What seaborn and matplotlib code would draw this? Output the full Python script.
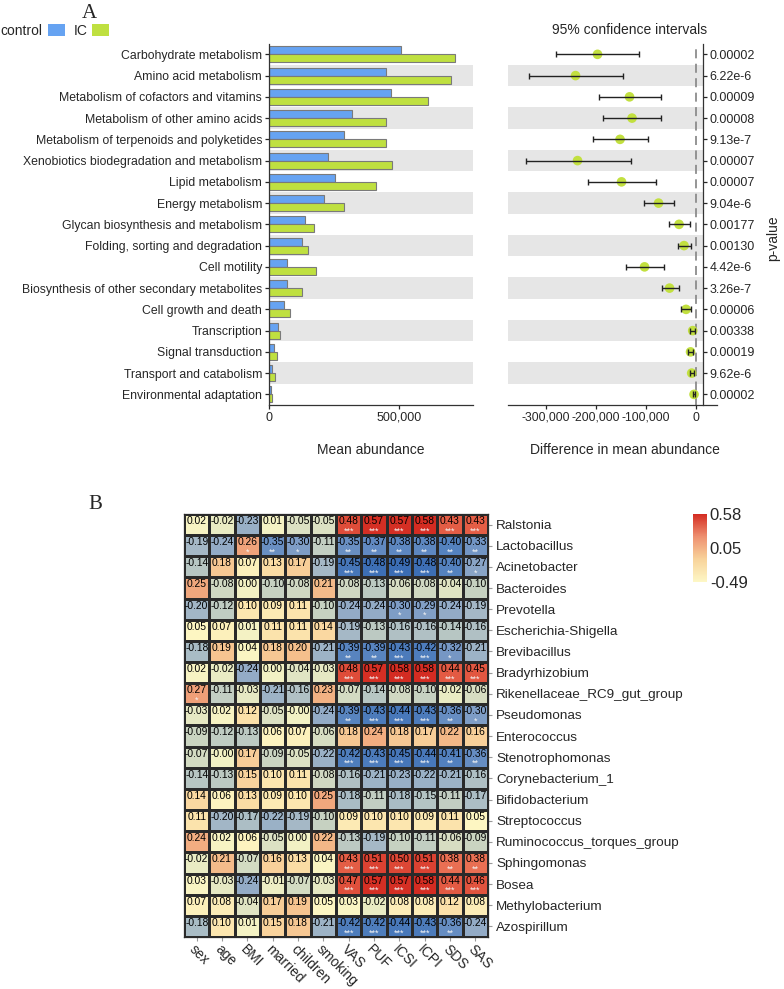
import numpy as np
import pandas as pd
import matplotlib
matplotlib.use("Agg")
import matplotlib.pyplot as plt
import seaborn as sns
from matplotlib.colors import LinearSegmentedColormap, Normalize
from matplotlib.cm import ScalarMappable
from matplotlib.ticker import FuncFormatter

# =========================
# CONFIG
# =========================
sns.set_style("ticks")
plt.rcParams['font.family'] = ['Liberation Sans', 'DejaVu Sans']

# =========================
# DATA - PANEL A (KEGG level 2)
# =========================
pathways = [
    "Carbohydrate metabolism", "Amino acid metabolism",
    "Metabolism of cofactors and vitamins", "Metabolism of other amino acids",
    "Metabolism of terpenoids and polyketides",
    "Xenobiotics biodegradation and metabolism", "Lipid metabolism",
    "Energy metabolism", "Glycan biosynthesis and metabolism",
    "Folding, sorting and degradation", "Cell motility",
    "Biosynthesis of other secondary metabolites", "Cell growth and death",
    "Transcription", "Signal transduction", "Transport and catabolism",
    "Environmental adaptation",
]
control_mean = [507000, 449000, 469000, 318000, 287000, 226000, 253000, 210000,
                140000, 126000, 70500, 70500, 59000, 36000, 18000, 12800, 7700]
ic_mean = [715000, 700000, 611000, 451000, 449000, 473000, 410000, 287000,
           174000, 149000, 179500, 126000, 79500, 41000, 29500, 21800, 12800]
diff_mean = [-197000, -241000, -133000, -128000, -152000, -237000, -149000, -75000,
             -34000, -24000, -103000, -53000, -20000, -6700, -11000, -8700, -4000]
ci_low = [-281000, -335000, -195000, -187000, -207000, -341000, -217000, -105000,
          -55000, -37000, -141000, -69000, -30000, -12000, -17000, -13000, -6000]
ci_high = [-115000, -147000, -70000, -70000, -97000, -131000, -81000, -45000,
           -13000, -10000, -64000, -35000, -11000, -1300, -6700, -4700, -2000]
p_values = ["0.00002", "6.22e-6", "0.00009", "0.00008", "9.13e-7", "0.00007",
            "0.00007", "9.04e-6", "0.00177", "0.00130", "4.42e-6", "3.26e-7",
            "0.00006", "0.00338", "0.00019", "9.62e-6", "0.00002"]

# =========================
# DATA - PANEL B (Spearman correlation)
# =========================
genera = [
    "Ralstonia", "Lactobacillus", "Acinetobacter", "Bacteroides", "Prevotella",
    "Escherichia-Shigella", "Brevibacillus", "Bradyrhizobium",
    "Rikenellaceae_RC9_gut_group", "Pseudomonas", "Enterococcus",
    "Stenotrophomonas", "Corynebacterium_1", "Bifidobacterium", "Streptococcus",
    "Ruminococcus_torques_group", "Sphingomonas", "Bosea", "Methylobacterium",
    "Azospirillum",
]
clinical_vars = ["sex", "age", "BMI", "married", "children", "smoking",
                 "VAS", "PUF", "ICSI", "ICPI", "SDS", "SAS"]
corr_values = [
    [0.02, -0.02, -0.23, 0.01, -0.05, -0.05, 0.48, 0.57, 0.57, 0.58, 0.43, 0.43],
    [-0.19, -0.24, 0.26, -0.35, -0.30, -0.11, -0.35, -0.37, -0.38, -0.38, -0.40, -0.33],
    [-0.14, 0.18, 0.07, 0.13, 0.17, -0.19, -0.45, -0.48, -0.49, -0.48, -0.40, -0.27],
    [0.25, -0.08, 0.00, -0.10, -0.08, 0.21, -0.08, -0.13, -0.06, -0.08, -0.04, -0.10],
    [-0.20, -0.12, 0.10, 0.09, 0.11, -0.10, -0.24, -0.24, -0.30, -0.29, -0.24, -0.19],
    [0.05, 0.07, 0.01, 0.11, 0.11, 0.14, -0.19, -0.13, -0.16, -0.16, -0.14, -0.16],
    [-0.18, 0.19, 0.04, 0.18, 0.20, -0.21, -0.39, -0.39, -0.43, -0.42, -0.32, -0.21],
    [0.02, -0.02, -0.24, 0.00, -0.04, -0.03, 0.48, 0.57, 0.58, 0.58, 0.44, 0.45],
    [0.27, -0.11, -0.03, -0.21, -0.16, 0.23, -0.07, -0.14, -0.08, -0.10, -0.02, -0.06],
    [-0.03, 0.02, 0.12, -0.05, -0.00, -0.24, -0.39, -0.43, -0.44, -0.43, -0.36, -0.30],
    [-0.09, -0.12, -0.13, 0.06, 0.07, -0.06, 0.18, 0.24, 0.18, 0.17, 0.22, 0.16],
    [-0.07, -0.00, 0.17, -0.09, -0.05, -0.22, -0.42, -0.43, -0.45, -0.44, -0.41, -0.36],
    [-0.14, -0.13, 0.15, 0.10, 0.11, -0.08, -0.16, -0.21, -0.23, -0.22, -0.21, -0.16],
    [0.14, 0.06, 0.13, 0.09, 0.10, 0.25, -0.18, -0.11, -0.18, -0.15, -0.11, -0.17],
    [0.11, -0.20, -0.17, -0.22, -0.19, -0.10, 0.09, 0.10, 0.10, 0.09, 0.11, 0.05],
    [0.24, 0.02, 0.06, -0.05, 0.00, 0.22, -0.13, -0.19, -0.10, -0.11, -0.06, -0.09],
    [-0.02, 0.21, -0.07, 0.16, 0.13, 0.04, 0.43, 0.51, 0.50, 0.51, 0.38, 0.38],
    [0.03, -0.03, -0.24, -0.01, -0.07, -0.03, 0.47, 0.57, 0.57, 0.58, 0.44, 0.46],
    [0.07, 0.08, -0.04, 0.17, 0.19, 0.05, 0.03, -0.02, 0.08, 0.08, 0.12, 0.08],
    [-0.18, 0.10, 0.01, 0.15, 0.18, -0.21, -0.42, -0.42, -0.44, -0.43, -0.36, -0.24],
]
corr_stars = [
    ["", "", "", "", "", "", "***", "***", "***", "***", "***", "***"],
    ["", "", "*", "**", "*", "", "**", "**", "**", "**", "**", "**"],
    ["", "", "", "", "", "", "***", "***", "***", "***", "**", "*"],
    ["", "", "", "", "", "", "", "", "", "", "", ""],
    ["", "", "", "", "", "", "", "", "*", "*", "", ""],
    ["", "", "", "", "", "", "", "", "", "", "", ""],
    ["", "", "", "", "", "", "**", "**", "***", "***", "*", ""],
    ["", "", "", "", "", "", "***", "***", "***", "***", "***", "***"],
    ["*", "", "", "", "", "", "", "", "", "", "", ""],
    ["", "", "", "", "", "", "**", "***", "***", "***", "**", "*"],
    ["", "", "", "", "", "", "", "", "", "", "", ""],
    ["", "", "", "", "", "", "***", "***", "***", "***", "**", "**"],
    ["", "", "", "", "", "", "", "", "", "", "", ""],
    ["", "", "", "", "", "", "", "", "", "", "", ""],
    ["", "", "", "", "", "", "", "", "", "", "", ""],
    ["", "", "", "", "", "", "", "", "", "", "", ""],
    ["", "", "", "", "", "", "***", "***", "***", "***", "**", "**"],
    ["", "", "", "", "", "", "***", "***", "***", "***", "***", "***"],
    ["", "", "", "", "", "", "", "", "", "", "", ""],
    ["", "", "", "", "", "", "***", "***", "***", "***", "**", ""],
]

# =========================
# FIGURE
# =========================
fig = plt.figure(figsize=(7.84, 9.89), dpi=100)
band_color = "#e6e6e6"
comma = FuncFormatter(lambda v, p: "{:,.0f}".format(v))

# ---------- Panel A: bars ----------
ax_a = fig.add_axes([0.3431, 0.5905, 0.2602, 0.3653])
for i in range(1, len(pathways), 2):
    ax_a.axhspan(i - 0.5, i + 0.5, color=band_color, lw=0, zorder=0)

bar_df = pd.DataFrame({
    "pathway": pathways * 2,
    "abundance": control_mean + ic_mean,
    "group": ["control"] * len(pathways) + ["IC"] * len(pathways),
})
sns.barplot(data=bar_df, y="pathway", x="abundance", hue="group", orient="h",
            palette={"control": "#66a3f2", "IC": "#bfe040"}, saturation=1,
            width=0.76, edgecolor="#7a7a7a", linewidth=0.8, ax=ax_a, zorder=2)
ax_a.set_xlim(0, 785000)
ax_a.set_ylim(len(pathways) - 0.5, -0.5)
ax_a.set_xticks([0, 500000])
ax_a.xaxis.set_major_formatter(comma)
ax_a.set_xlabel("")
ax_a.set_ylabel("")
ax_a.tick_params(axis="y", labelsize=8.8, length=3, width=0.9, pad=2)
ax_a.tick_params(axis="x", labelsize=9, length=3, width=0.9, pad=2)
for s in ["top", "right"]:
    ax_a.spines[s].set_visible(False)
for s in ["left", "bottom"]:
    ax_a.spines[s].set_color("#333333")
    ax_a.spines[s].set_linewidth(0.9)

sns.move_legend(ax_a, "upper left", bbox_to_anchor=(0.001, 0.976),
                bbox_transform=fig.transFigure, ncol=2, title=None,
                frameon=False, markerfirst=False, fontsize=10,
                handlelength=1.25, handleheight=0.95, handletextpad=0.35,
                columnspacing=0.6, borderpad=0, borderaxespad=0)
for h in ax_a.get_legend().legend_handles:
    h.set_edgecolor("none")

# ---------- Panel A: confidence intervals ----------
ax_ci = fig.add_axes([0.648, 0.5905, 0.2666, 0.3653])
ci_xmin, ci_xmax, spine_x = -376000, 42000, 13400
band_frac = (spine_x - ci_xmin) / (ci_xmax - ci_xmin)
for i in range(1, len(pathways), 2):
    ax_ci.axhspan(i - 0.5, i + 0.5, xmin=0, xmax=band_frac,
                  color=band_color, lw=0, zorder=0)
ax_ci.axvline(0, color="#8c8c8c", ls=(0, (5, 3)), lw=1.3, zorder=1)

ypos = np.arange(len(pathways))
d = np.array(diff_mean)
xerr = [d - np.array(ci_low), np.array(ci_high) - d]
sns.scatterplot(x=diff_mean, y=ypos, color="#c2e03f", s=48,
                edgecolor="none", ax=ax_ci, zorder=2)
ax_ci.errorbar(diff_mean, ypos, xerr=xerr, fmt="none", ecolor="#222222",
               elinewidth=1, capsize=2.2, capthick=1, zorder=3)
ax_ci.set_xlim(ci_xmin, ci_xmax)
ax_ci.set_ylim(len(pathways) - 0.5, -0.5)
ax_ci.set_xticks([-300000, -200000, -100000, 0])
ax_ci.xaxis.set_major_formatter(comma)
ax_ci.yaxis.tick_right()
ax_ci.set_yticks(ypos)
ax_ci.set_yticklabels(p_values)
ax_ci.tick_params(axis="y", labelsize=9, length=3, width=0.9, pad=2)
ax_ci.tick_params(axis="x", labelsize=8.8, length=3, width=0.9, pad=2)
ax_ci.spines["left"].set_visible(False)
ax_ci.spines["top"].set_visible(False)
ax_ci.spines["right"].set_position(("data", spine_x))
for s in ["right", "bottom"]:
    ax_ci.spines[s].set_color("#333333")
    ax_ci.spines[s].set_linewidth(0.9)

fig.text(630 / 784, 1 - 30 / 989, "95% confidence intervals",
         ha="center", va="center", fontsize=10)
fig.text(773 / 784, 1 - 238 / 989, "p-value", rotation=90,
         ha="center", va="center", fontsize=10)
fig.text(371 / 784, 1 - 450 / 989, "Mean abundance",
         ha="center", va="center", fontsize=10)
fig.text(625 / 784, 1 - 450 / 989, "Difference in mean abundance",
         ha="center", va="center", fontsize=10)

# ---------- Panel B: heatmap ----------
heat_cmap = LinearSegmentedColormap.from_list("corr", [
    (0.00, "#3b6db4"), (0.084, "#5582bf"), (0.178, "#7f9dc6"),
    (0.271, "#a2b6c6"), (0.364, "#c6d1c1"), (0.458, "#f2f1c4"),
    (0.505, "#fdf6c2"), (0.570, "#fbe0a8"), (0.645, "#f5c08d"),
    (0.710, "#ef9f78"), (0.832, "#e8684d"), (1.00, "#d42c22"),
])
corr_df = pd.DataFrame(corr_values, index=genera, columns=clinical_vars)

ax_h = fig.add_axes([0.2347, 0.0526, 0.3878, 0.4277])
sns.heatmap(corr_df, ax=ax_h, cmap=heat_cmap, vmin=-0.49, vmax=0.58,
            cbar=False, linewidths=0.9, linecolor="#2a2a2a")
for i in range(len(genera)):
    for j in range(len(clinical_vars)):
        ax_h.text(j + 0.5, i + 0.33, "{:.2f}".format(corr_values[i][j]),
                  ha="center", va="center", fontsize=7.4, color="black")
        if corr_stars[i][j]:
            ax_h.text(j + 0.5, i + 0.8, corr_stars[i][j], ha="center",
                      va="center", fontsize=6.5, color="#f4f4f4")
for s in ax_h.spines.values():
    s.set_visible(True)
    s.set_color("#2a2a2a")
    s.set_linewidth(0.9)

ax_h.yaxis.tick_right()
ax_h.set_yticklabels(genera, rotation=0, fontsize=9.7)
ax_h.set_xticklabels(clinical_vars, rotation=-45, ha="left",
                     rotation_mode="anchor", fontsize=10)
ax_h.tick_params(axis="y", length=3, color="#999999", pad=3)
ax_h.tick_params(axis="x", length=3, color="#999999", pad=1)
ax_h.set_xlabel("")
ax_h.set_ylabel("")

# colorbar
ax_cb = fig.add_axes([0.884, 0.4115, 0.0179, 0.0688])
cb_cmap = LinearSegmentedColormap.from_list(
    "cb", ["#fdf7c6", "#f8d39a", "#ee9070", "#d42c22"])
cb = fig.colorbar(ScalarMappable(norm=Normalize(-0.49, 0.58), cmap=cb_cmap),
                  cax=ax_cb, ticks=[-0.49, 0.05, 0.58])
cb.ax.set_yticklabels(["-0.49", "0.05", "0.58"])
cb.outline.set_visible(False)
ax_cb.tick_params(length=0, labelsize=12, pad=2)

# panel letters
fig.text(89 / 784, 1 - 14 / 989, "A", family="Liberation Serif",
         fontsize=15, ha="center", va="center")
fig.text(95 / 784, 1 - 505 / 989, "B", family="Liberation Serif",
         fontsize=15, ha="center", va="center")

plt.savefig("out.png", dpi=100)
